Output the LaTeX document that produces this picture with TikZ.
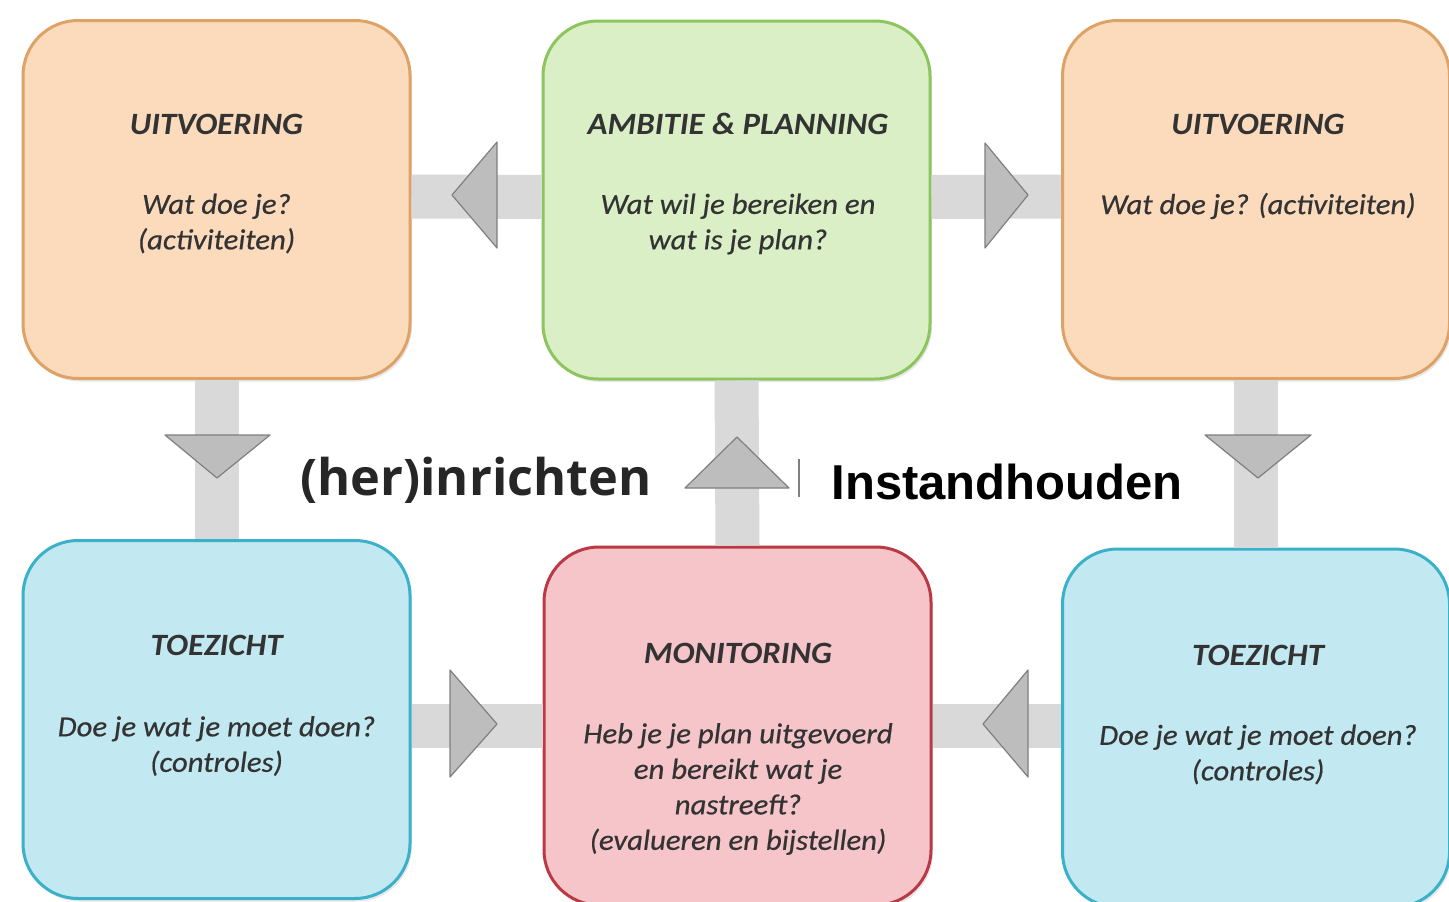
\documentclass[tikz,border=0pt]{standalone}
\usepackage{fontspec}
\setmainfont{Carlito}
\newfontfamily\bodyf{Carlito}[FakeStretch=1.06, FakeBold=0.5]
\newfontfamily\ttlf{Carlito}[FakeStretch=1.06]
\newfontfamily\osans{Open Sans}
\newfontfamily\lsans{Liberation Sans}
\usetikzlibrary{shadows}
\definecolor{orfill}{HTML}{FCDBBD}
\definecolor{ordraw}{HTML}{DFA266}
\definecolor{grfill}{HTML}{DBEFC6}
\definecolor{grdraw}{HTML}{8CC45E}
\definecolor{blfill}{HTML}{C2E8F2}
\definecolor{bldraw}{HTML}{3BB0C9}
\definecolor{rdfill}{HTML}{F5C5CA}
\definecolor{rddraw}{HTML}{B93A44}
\definecolor{barcol}{HTML}{D9D9D9}
\definecolor{trifill}{HTML}{BDBDBD}
\definecolor{tridraw}{HTML}{7F7F7F}
\definecolor{txt}{HTML}{333333}
\begin{document}
\begin{tikzpicture}[x=1pt,y=-1pt,
  box/.style={rounded corners=55pt, line width=3pt, minimum width=387pt, minimum height=358pt, inner sep=0pt,
    drop shadow={opacity=0.18, shadow xshift=2pt, shadow yshift=-3pt}},
  orbox/.style={box, fill=orfill, draw=ordraw},
  grbox/.style={box, fill=grfill, draw=grdraw},
  blbox/.style={box, fill=blfill, draw=bldraw},
  rdbox/.style={box, fill=rdfill, draw=rddraw},
  ttl/.style={font=\ttlf\fontsize{31}{36}\selectfont\bfseries\itshape, text=txt, inner sep=0pt},
  bdy/.style={font=\bodyf\fontsize{29}{35.5}\selectfont\itshape, text=txt, align=center, inner sep=0pt},
  bar/.style={line width=44pt, draw=barcol},
  tri/.style={fill=trifill, draw=tridraw, line width=1.2pt, line join=round}
]
\useasboundingbox (0,0) rectangle (1449,902);
\fill[white] (0,0) rectangle (1449,902);

% boxes
\node[orbox] (tl) at (216.5,199.5) {};
\node[grbox] (ap) at (736.5,200) {};
\node[orbox] (tr) at (1256,199.5) {};
\node[blbox] (bl) at (216.5,719.5) {};
\node[rdbox] (mon) at (737.5,726) {};
\node[blbox] (br) at (1256,728) {};

% bars
\draw[bar] ([yshift=3pt]tl.east) -- ([yshift=3pt]ap.west);
\draw[bar] ([yshift=3pt]ap.east) -- ([yshift=3pt]tr.west);
\draw[bar] (tl.south) -- (bl.north);
\draw[bar] (ap.south) -- (mon.north);
\draw[bar] (tr.south) -- (br.north);
\draw[bar] (mon.west) -- (mon.west -| bl.east);
\draw[bar] (mon.east) -- (mon.east -| br.west);

% arrowheads
\draw[tri] (452,195) -- (497,142) -- (497,248) -- cycle;
\draw[tri] (985,143) -- (1028,195) -- (985,248) -- cycle;
\draw[tri] (165,435) -- (270,435) -- (217,478) -- cycle;
\draw[tri] (737,437) -- (789,488) -- (685,488) -- cycle;
\draw[tri] (1205,435) -- (1311,435) -- (1258,478) -- cycle;
\draw[tri] (450,670) -- (497,724) -- (450,777) -- cycle;
\draw[tri] (983,724) -- (1028,670) -- (1028,777) -- cycle;

% texts in boxes
\node[ttl] (tlt) at (216.5,124) {UITVOERING};
\node[bdy] (tlb) at (216.5,223.5) {Wat doe je?\\(activiteiten)};
\node[ttl] (apt) at (738,124) {AMBITIE \& PLANNING};
\node[bdy] (apb) at (738,224) {Wat wil je bereiken en\\wat is je plan?};
\node[ttl] (trt) at (1258,124) {UITVOERING};
\node[bdy] (trb) at (1258,206) {Wat doe je? (activiteiten)};
\node[ttl] (blt) at (216.5,645) {TOEZICHT};
\node[bdy] (blb) at (216.5,746) {Doe je wat je moet doen?\\(controles)};
\node[ttl] (mont) at (738,653) {MONITORING};
\node[bdy] (monb) at (738,789) {Heb je je plan uitgevoerd\\en bereikt wat je\\nastreeft?\\(evalueren en bijstellen)};
\node[ttl] (brt) at (1258,655) {TOEZICHT};
\node[bdy] (brb) at (1258,754.5) {Doe je wat je moet doen?\\(controles)};

% labels
\node[font=\osans\bfseries\fontsize{50.5}{58}\selectfont, text=black!85, inner sep=0pt] (her) at (476,480) {(her)inrichten};
\node[font=\lsans\bfseries\fontsize{49}{58}\selectfont, text=black, inner sep=0pt] (inst) at (1007,482) {Instandhouden};
\coordinate (d1) at (799,459);
\coordinate (d2) at (799,497);
\draw[tridraw, line width=1.5pt] (d1) -- (d2);
\end{tikzpicture}
\end{document}
